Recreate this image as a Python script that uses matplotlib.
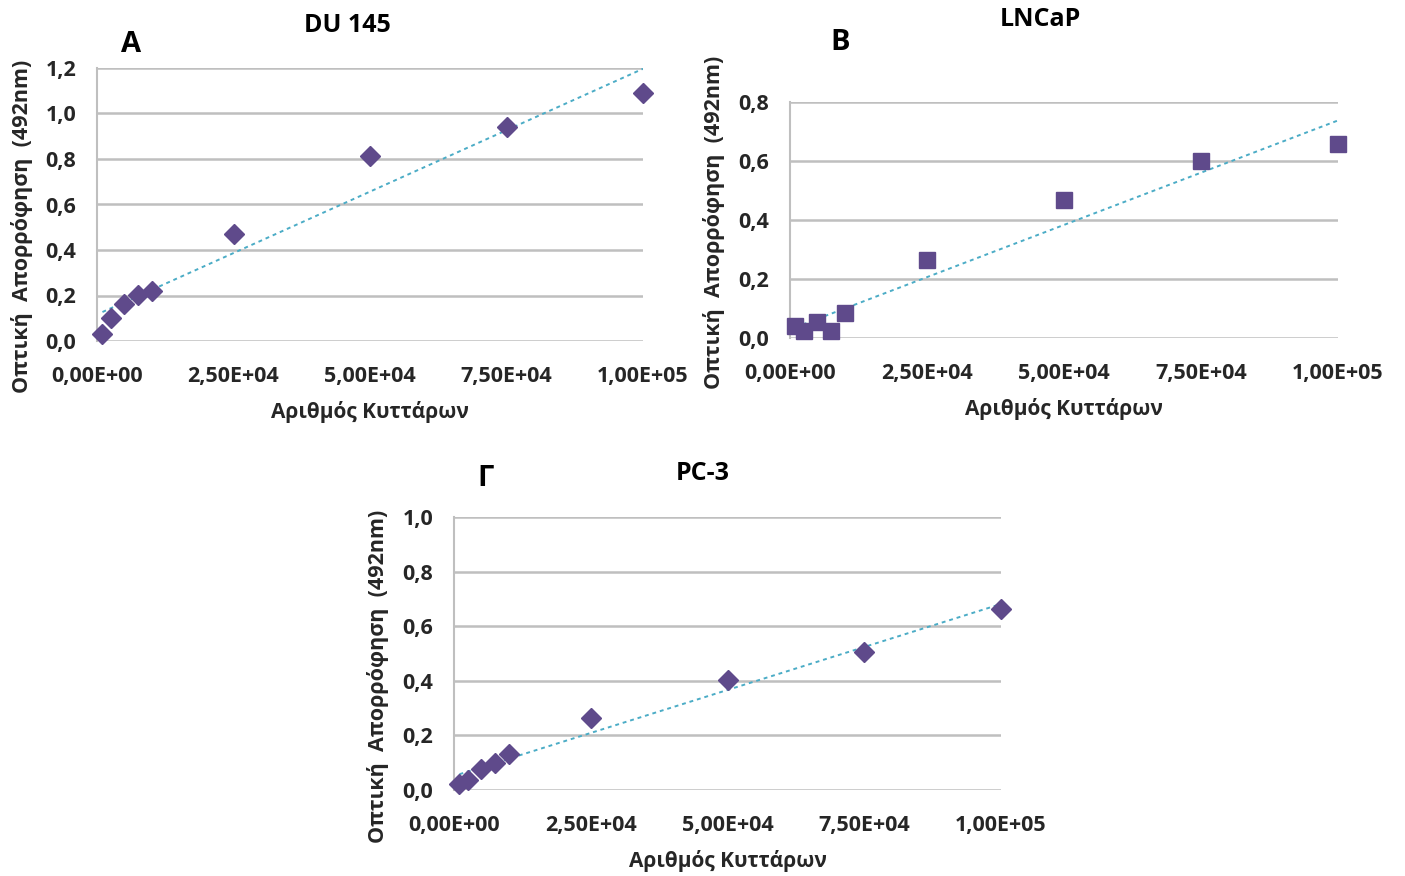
import matplotlib
matplotlib.use("Agg")
import matplotlib.pyplot as plt
from matplotlib.ticker import FuncFormatter, MultipleLocator
import numpy as np

plt.rcParams['font.family'] = ['Open Sans', 'DejaVu Sans']

# Δεδομένα (αριθμός κυττάρων, οπτική απορρόφηση)
cells = [1000, 2500, 5000, 7500, 10000, 25000, 50000, 75000, 100000]
du145 = [0.031, 0.101, 0.163, 0.202, 0.220, 0.470, 0.813, 0.940, 1.090]
lncap = [0.041, 0.024, 0.054, 0.024, 0.085, 0.264, 0.468, 0.600, 0.658]
pc3 = [0.022, 0.037, 0.077, 0.099, 0.132, 0.264, 0.403, 0.505, 0.663]

purple = '#5f4a8b'
trend = '#4bacc6'
grid = '#bfbfbf'
txt = '#262626'

W, H = 1405, 876
fig = plt.figure(figsize=(W / 100, H / 100), dpi=100)


def px_axes(x0, x1, y0, y1):
    # x0,x1: αριστερά/δεξιά σε px, y0: κάτω (px), y1: πάνω (px)
    return fig.add_axes([x0 / W, 1 - y0 / H, (x1 - x0) / W, (y0 - y1) / H])


def sci(v, pos):
    if v == 0:
        return '0,00E+00'
    e = int(np.floor(np.log10(abs(v))))
    m = v / 10 ** e
    return f'{m:.2f}'.replace('.', ',') + f'E+{e:02d}'


def panel(ax, y, ymax, marker, ms, ylab_y):
    ax.set_xlim(0, 100000)
    ax.set_ylim(0, ymax)
    ax.yaxis.set_major_locator(MultipleLocator(0.2))
    ax.xaxis.set_major_locator(MultipleLocator(25000))
    ax.xaxis.set_major_formatter(FuncFormatter(sci))
    ax.yaxis.set_major_formatter(FuncFormatter(lambda v, p: f'{v:.1f}'.replace('.', ',')))
    for s in ['top', 'right', 'bottom']:
        ax.spines[s].set_visible(False)
    ax.spines['left'].set_color(grid)
    ax.spines['left'].set_linewidth(1.5)
    ax.grid(axis='y', color=grid, linewidth=1.8)
    ax.set_axisbelow(True)
    ax.tick_params(length=0, labelsize=15.5, labelcolor=txt)
    ax.tick_params(axis='x', pad=18)
    ax.tick_params(axis='y', pad=15)
    for t in ax.get_xticklabels() + ax.get_yticklabels():
        t.set_fontweight('bold')
    # γραμμή τάσης (ελάχιστα τετράγωνα)
    k, b = np.polyfit(cells, y, 1)
    xs = np.array([cells[0], cells[-1]])
    ax.plot(xs, k * xs + b, color=trend, linestyle=(0, (2, 2)), linewidth=1.4, zorder=2)
    ax.plot(cells, y, linestyle='none', marker=marker, markersize=ms,
            color=purple, markeredgecolor=purple, zorder=3, clip_on=False)
    ax.set_xlabel('Αριθμός Κυττάρων', fontsize=15, fontweight='bold', color=txt, labelpad=10)
    ax.set_ylabel('Οπτική  Απορρόφηση  (492nm)', fontsize=15.5, fontweight='bold', color=txt)
    ax.yaxis.set_label_coords(-0.118, ylab_y, transform=ax.transAxes)


axA = px_axes(97, 643, 341, 68)
panel(axA, du145, 1.2, 'D', 10, 0.42)

axB = px_axes(790, 1338, 338, 102)
panel(axB, lncap, 0.8, 's', 12, 0.49)

axC = px_axes(454, 1001, 790, 517)
panel(axC, pc3, 1.0, 'D', 10, 0.415)

# τίτλοι και γράμματα πάνελ
fig.text(347 / W, 1 - 25 / H, 'DU 145', ha='center', va='center', fontsize=18, fontweight='bold')
fig.text(131 / W, 1 - 45 / H, 'A', ha='center', va='center', fontsize=21, fontweight='bold')
fig.text(1040 / W, 1 - 20 / H, 'LNCaP', ha='center', va='center', fontsize=18, fontweight='bold')
fig.text(840 / W, 1 - 43 / H, 'B', ha='center', va='center', fontsize=21, fontweight='bold')
fig.text(703 / W, 1 - 473 / H, 'PC-3', ha='center', va='center', fontsize=18, fontweight='bold')
fig.text(486 / W, 1 - 478 / H, 'Γ', ha='center', va='center', fontsize=21, fontweight='bold')

fig.savefig('out.png', dpi=100, facecolor='white')
